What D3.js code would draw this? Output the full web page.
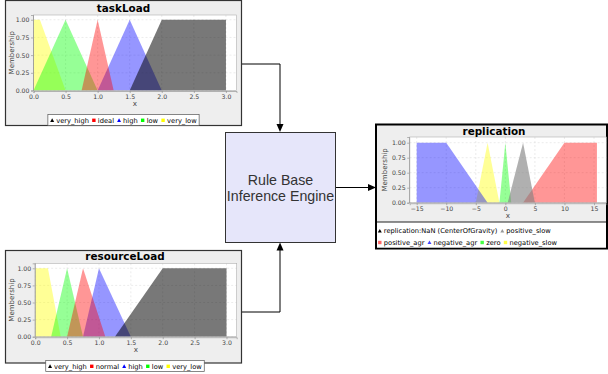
<!DOCTYPE html>
<html><head><meta charset="utf-8">
<script src="https://cdn.jsdelivr.net/npm/d3@7"></script>
<style>body{margin:0;background:#fff}svg{display:block}</style>
</head><body><svg id="c" width="608" height="374"></svg>
<script>
// ---------- data ----------
const taskLabels = ["very_high","ideal","high","low","very_low"];
const taskVeryHigh = [[1.5,0],[2,1],[3,1],[3,0]];
const taskIdeal = [[0.75,0],[1,1],[1.25,0]];
const taskHigh = [[1,0],[1.5,1],[2,0]];
const taskLow = [[0,0],[0.5,1],[1,0]];
const taskVeryLow = [[0,0],[0,1],[0.1,1],[0.5,0]];

const resLabels = ["very_high","normal","high","low","very_low"];
const resVeryHigh = [[1.25,0],[2,1],[3,1],[3,0]];
const resNormal = [[0.5,0],[0.75,1],[1.1,0]];
const resHigh = [[0.75,0],[1,1],[1.5,0]];
const resLow = [[0.25,0],[0.5,1],[0.75,0]];
const resVeryLow = [[0,0],[0,1],[0.2,1],[0.4,0]];

const repLabels = ["replication:NaN (CenterOfGravity)","positive_slow","positive_agr","negative_agr","zero","negative_slow"];
const repOutput = [];
const repPositiveSlow = [[0.4,0],[3,1],[5,0]];
const repPositiveAgr = [[3,0],[10,1],[15.5,1],[15.5,0]];
const repNegativeAgr = [[-15,0],[-15,1],[-10,1],[-3,0]];
const repZero = [[-1,0],[0,1],[1,0]];
const repNegativeSlow = [[-5,0],[-3,1],[-1,0]];

const inputTicksX = [0,0.5,1,1.5,2,2.5,3];
const repTicksX = [-15,-10,-5,0,5,10,15];
const ticksY = [0,0.25,0.5,0.75,1];
const engineLines = ["Rule Base","Inference Engine"];

// ---------- styles ----------
const C = {black:"#000000", red:"#ff0000", blue:"#0000ff", green:"#00ff00", yellow:"#ffff00", gray:"#808080"};
const OP = {black:0.53, gray:0.62, other:0.41};
const FONT = "DejaVu Sans, sans-serif";

const svg = d3.select("#c");

function drawPanel(cfg){
  const g = svg.append("g");
  g.append("rect").attr("x",cfg.panel[0]).attr("y",cfg.panel[1])
    .attr("width",cfg.panel[2]).attr("height",cfg.panel[3])
    .attr("fill","#eeeeee").attr("stroke",cfg.border||"#333").attr("stroke-width",cfg.borderW||1.2);
  if(cfg.legendArea){
    const la = cfg.legendArea;
    g.append("rect").attr("x",la[0]).attr("y",la[1]).attr("width",la[2]).attr("height",la[3])
      .attr("fill","#ffffff");
    g.append("line").attr("x1",la[0]).attr("x2",la[0]+la[2]).attr("y1",la[1]).attr("y2",la[1])
      .attr("stroke","#222").attr("stroke-width",1);
  }
  const [px,py,pw,ph] = cfg.plot;
  const x = d3.scaleLinear().domain(cfg.xDomain).range([px,px+pw]);
  const y = d3.scaleLinear().domain(cfg.yDomain).range([py+ph,py]);
  g.append("rect").attr("x",px).attr("y",py).attr("width",pw).attr("height",ph).attr("fill","#fff");
  g.append("g").selectAll("line").data(cfg.ticksX).join("line")
    .attr("x1",d=>x(d)).attr("x2",d=>x(d)).attr("y1",py).attr("y2",py+ph)
    .attr("stroke","#d8d8d8").attr("stroke-width",0.5).attr("stroke-dasharray","2,2");
  g.append("g").selectAll("line").data(ticksY).join("line")
    .attr("x1",px).attr("x2",px+pw).attr("y1",d=>y(d)).attr("y2",d=>y(d))
    .attr("stroke","#d8d8d8").attr("stroke-width",0.5).attr("stroke-dasharray","2,2");
  const line = d3.line().x(d=>x(d[0])).y(d=>y(d[1]));
  for(let i=cfg.series.length-1;i>=0;i--){
    const s = cfg.series[i];
    if(!s.pts.length) continue;
    g.append("path").attr("d", line(s.pts)+"Z")
      .attr("fill",s.color).attr("fill-opacity",s.op).attr("stroke","none");
  }
  g.append("rect").attr("x",px).attr("y",py).attr("width",pw).attr("height",ph)
    .attr("fill","none").attr("stroke","#b0b0b0").attr("stroke-width",0.6);
  const ax = g.append("g").attr("transform",`translate(0,${py+ph+0.5})`)
    .call(d3.axisBottom(x).tickValues(cfg.ticksX).tickSize(2).tickPadding(1.5).tickFormat(cfg.fmtX));
  const ay = g.append("g").attr("transform",`translate(${px-0.5},0)`)
    .call(d3.axisLeft(y).tickValues(ticksY).tickSize(2).tickPadding(1.5).tickFormat(d3.format(".2f")));
  [ax,ay].forEach(a=>{
    a.select(".domain").attr("stroke","#888").attr("stroke-width",0.6);
    a.selectAll(".tick line").attr("stroke","#888").attr("stroke-width",0.6);
    a.selectAll("text").attr("font-family",FONT).attr("font-size",6.2).attr("fill","#444");
  });
  g.append("text").attr("x",px+pw/2).attr("y",py+ph+15.5).attr("text-anchor","middle")
    .attr("font-family",FONT).attr("font-size",7.2).attr("fill","#444").text("x");
  g.append("text").attr("transform",`translate(${cfg.membX},${py+ph/2}) rotate(-90)`)
    .attr("text-anchor","middle").attr("font-family",FONT).attr("font-size",7).attr("fill","#444")
    .text("Membership");
  g.append("text").attr("x",cfg.titleX).attr("y",cfg.titleY).attr("text-anchor","middle")
    .attr("font-family",FONT).attr("font-weight","bold").attr("font-size",10.4).attr("fill","#000")
    .text(cfg.title);
  cfg.legendRows.forEach((row,ri)=>{
    const lg = g.append("g");
    let cur = 0;
    row.forEach(idx=>{
      const s = cfg.series[idx];
      const it = lg.append("g");
      drawSymbol(it, s.sym, cur+1.8, -2.2, s.legendColor);
      const t = it.append("text").attr("x",cur+5.8).attr("y",0)
        .attr("font-family",FONT).attr("font-size",6.7).attr("fill","#000").text(s.label);
      const w = t.node().getComputedTextLength();
      cur += 5.8 + w + 3.2;
    });
    const total = cur - 3.2;
    const lx = cfg.legendAlign==="left" ? cfg.legendX : cfg.legendCx - total/2;
    lg.attr("transform",`translate(${lx},${cfg.legendY[ri]})`);
    if(cfg.legendBox){
      lg.insert("rect",":first-child").attr("x",-2.5).attr("y",-8).attr("width",total+5).attr("height",11)
        .attr("fill","#fff").attr("stroke","#555").attr("stroke-width",0.7);
    }
  });
}

function drawSymbol(g, type, cx, cy, color){
  if(type==="tri"){
    g.append("path").attr("d",`M${cx},${cy-2}L${cx+2},${cy+1.6}L${cx-2},${cy+1.6}Z`).attr("fill",color);
  } else {
    g.append("rect").attr("x",cx-1.7).attr("y",cy-1.7).attr("width",3.4).attr("height",3.4).attr("fill",color);
  }
}

function mk(label, pts, colorKey, sym, legendColor){
  const op = colorKey==="black"?OP.black:(colorKey==="gray"?OP.gray:OP.other);
  return {label, pts, color:C[colorKey], op, sym, legendColor: legendColor || C[colorKey]};
}

// ---- connectors ----
const conn = svg.append("g").attr("stroke","#000").attr("stroke-width",1).attr("fill","none");
conn.append("path").attr("d","M241,64H280V125");
conn.append("path").attr("d","M241,312H280V249");
conn.append("path").attr("d","M335,187.5H369");
const heads = svg.append("g").attr("fill","#000");
heads.append("path").attr("d","M276.5,124L283.5,124L280,132Z");
heads.append("path").attr("d","M276.5,250.5L283.5,250.5L280,242.5Z");
heads.append("path").attr("d","M368,184L368,191L376,187.5Z");

// ---- engine box ----
svg.append("rect").attr("x",225.5).attr("y",132.5).attr("width",110).attr("height",110)
  .attr("fill","#e6e6fa").attr("stroke","#333").attr("stroke-width",1);
svg.append("g").selectAll("text").data(engineLines).join("text")
  .attr("x",280.5).attr("y",(d,i)=>185+i*15.5).attr("text-anchor","middle")
  .attr("font-family","Liberation Sans, Arial, sans-serif").attr("font-size",14.2).attr("fill","#333")
  .text(d=>d);

// ---- taskLoad ----
drawPanel({
  panel:[5.5,0.5,236,125], plot:[33.5,15,203,75.5],
  xDomain:[0,3.165], yDomain:[0,1.067], ticksX:inputTicksX, fmtX:d3.format(".1f"),
  membX:13.5, title:"taskLoad", titleX:123.5, titleY:11.5,
  series:[
    mk(taskLabels[0],taskVeryHigh,"black","tri"),
    mk(taskLabels[1],taskIdeal,"red","sq"),
    mk(taskLabels[2],taskHigh,"blue","tri"),
    mk(taskLabels[3],taskLow,"green","sq"),
    mk(taskLabels[4],taskVeryLow,"yellow","sq")
  ],
  legendRows:[[0,1,2,3,4]], legendY:[122.5], legendCx:123.5, legendBox:true
});

// ---- resourceLoad ----
drawPanel({
  panel:[5.5,250.5,236,112.5], plot:[35.2,263.3,201.5,73.4],
  xDomain:[0,3.16], yDomain:[0,1.073], ticksX:inputTicksX, fmtX:d3.format(".1f"),
  membX:14, title:"resourceLoad", titleX:125, titleY:259.5,
  series:[
    mk(resLabels[0],resVeryHigh,"black","tri"),
    mk(resLabels[1],resNormal,"red","sq"),
    mk(resLabels[2],resHigh,"blue","tri"),
    mk(resLabels[3],resLow,"green","sq"),
    mk(resLabels[4],resVeryLow,"yellow","sq")
  ],
  legendRows:[[0,1,2,3,4]], legendY:[368.5], legendCx:125, legendBox:true
});

// ---- replication ----
drawPanel({
  panel:[376,124.5,231,124], plot:[409.7,137,196.6,65.7], border:"#000", borderW:2,
  legendArea:[377,222,229,25.5],
  xDomain:[-16.18,17.08], yDomain:[0,1.095], ticksX:repTicksX, fmtX:d3.format("d"),
  membX:387, title:"replication", titleX:494, titleY:134.8,
  series:[
    mk(repLabels[0],repOutput,"black","tri"),
    mk(repLabels[1],repPositiveSlow,"gray","tri","#999999"),
    mk(repLabels[2],repPositiveAgr,"red","sq","#ff6666"),
    mk(repLabels[3],repNegativeAgr,"blue","tri","#4444ff"),
    mk(repLabels[4],repZero,"green","sq","#44ff44"),
    mk(repLabels[5],repNegativeSlow,"yellow","sq","#ffff44")
  ],
  legendRows:[[0,1],[2,3,4,5]], legendY:[233.2,244.7], legendAlign:"left", legendX:378, legendBox:false
});
</script></body></html>
